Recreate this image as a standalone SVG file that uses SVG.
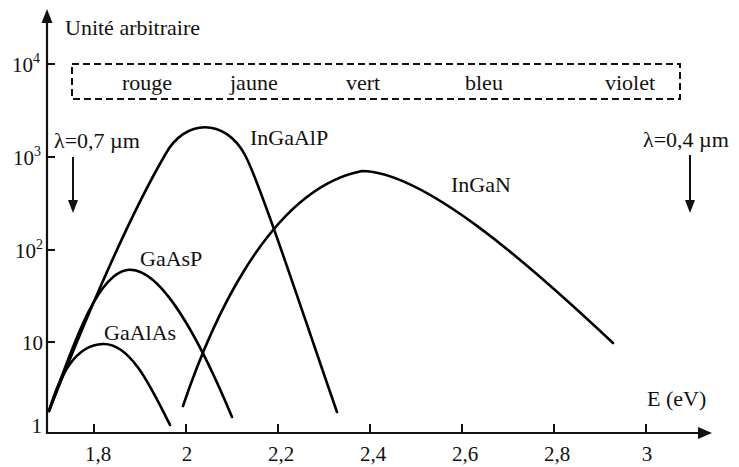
<svg xmlns="http://www.w3.org/2000/svg" width="739" height="467" viewBox="0 0 739 467" font-family="'Liberation Serif', 'DejaVu Serif', 'Times New Roman', serif">
<style>
text{font-family:'Liberation Serif','DejaVu Serif','Times New Roman',serif;fill:#111}
.lbl{font-size:22px}
.tk{font-size:21px}
.sup{font-size:14px}
.ax{stroke:#111;stroke-width:2.2;fill:none}
.tick{stroke:#111;stroke-width:2;fill:none}
.curve{stroke:#000;stroke-width:2.6;fill:none;stroke-linecap:round;stroke-linejoin:round}
.head{fill:#111}
.box{fill:none;stroke:#111;stroke-width:2;stroke-dasharray:7 4}
</style>
<rect width="739" height="467" fill="#fff"/>
<g id="axes">
<line class="ax" x1="47" y1="434" x2="47" y2="20"/>
<polygon class="head" points="47,9 41.5,23 52.5,23"/>
<line class="ax" x1="46" y1="433" x2="700" y2="433"/>
<polygon class="head" points="712,433 698,427 698,439"/>
<g id="yticks">
<line class="tick" x1="47" y1="64" x2="55" y2="64"/>
<line class="tick" x1="47" y1="157" x2="55" y2="157"/>
<line class="tick" x1="47" y1="250" x2="55" y2="250"/>
<line class="tick" x1="47" y1="342" x2="55" y2="342"/>
</g>
<g id="xticks">
<line class="tick" x1="94" y1="433" x2="94" y2="424"/>
<line class="tick" x1="186" y1="433" x2="186" y2="424"/>
<line class="tick" x1="278" y1="433" x2="278" y2="424"/>
<line class="tick" x1="370" y1="433" x2="370" y2="424"/>
<line class="tick" x1="462" y1="433" x2="462" y2="424"/>
<line class="tick" x1="554" y1="433" x2="554" y2="424"/>
<line class="tick" x1="646" y1="433" x2="646" y2="424"/>
</g>
<g id="ylabels">
<text class="tk" font-family="Liberation Serif" x="12" y="72">10<tspan class="sup" dy="-9">4</tspan></text>
<text class="tk" font-family="Liberation Serif" x="13" y="165">10<tspan class="sup" dy="-9">3</tspan></text>
<text class="tk" font-family="Liberation Serif" x="15" y="258">10<tspan class="sup" dy="-9">2</tspan></text>
<text class="tk" font-family="Liberation Serif" x="43" y="350" text-anchor="end">10</text>
<text class="tk" font-family="Liberation Serif" x="42" y="433" text-anchor="end">1</text>
</g>
<g id="xlabels" text-anchor="middle" font-family="Liberation Serif">
<text class="tk" x="98" y="461">1,8</text>
<text class="tk" x="187" y="461">2</text>
<text class="tk" x="281" y="461">2,2</text>
<text class="tk" x="373" y="461">2,4</text>
<text class="tk" x="465" y="461">2,6</text>
<text class="tk" x="557" y="461">2,8</text>
<text class="tk" x="647" y="461">3</text>
</g>
<text id="ytitle" class="lbl" font-family="Liberation Serif" x="65" y="35">Unité arbitraire</text>
<text id="xtitle" class="lbl" font-family="Liberation Serif" x="647" y="406">E (eV)</text>
</g>
<g id="spectrum" font-family="Liberation Serif">
<rect class="box" x="72" y="64" width="608" height="35"/>
<text class="lbl" x="122" y="90">rouge</text>
<text class="lbl" x="230" y="90">jaune</text>
<text class="lbl" x="346" y="90">vert</text>
<text class="lbl" x="465" y="90">bleu</text>
<text class="lbl" x="605" y="90">violet</text>
</g>
<g id="lambda-07" font-family="Liberation Serif">
<text class="lbl" x="54" y="148">λ=0,7 µm</text>
<line class="tick" x1="73" y1="157" x2="73" y2="202"/>
<polygon class="head" points="73,213 68,200 78,200"/>
</g>
<g id="lambda-04" font-family="Liberation Serif">
<text class="lbl" x="643" y="147">λ=0,4 µm</text>
<line class="tick" x1="690" y1="155" x2="690" y2="202"/>
<polygon class="head" points="690,213 685,200 695,200"/>
</g>
<g id="curves" font-family="Liberation Serif">
<g id="InGaAlP">
<path class="curve" d="M49,411 C85,320 130,215 165,155 C185,118 225,118 245,155 C260,183 305,320 337,412"/>
<text class="lbl" x="250" y="145">InGaAlP</text>
</g>
<g id="GaAsP">
<path class="curve" d="M49,411 C70,355 95,275 127,270 C160,265 200,340 232,417"/>
<text class="lbl" x="140" y="266">GaAsP</text>
</g>
<g id="GaAlAs">
<path class="curve" d="M49,411 C60,375 75,345 103,344 C130,343 150,385 170,425"/>
<text class="lbl" x="104" y="340">GaAlAs</text>
</g>
<g id="InGaN">
<path class="curve" d="M183,406 C207,335 265,190 362,171 C425,172 530,265 613,343"/>
<text class="lbl" x="451" y="192">InGaN</text>
</g>
</g>
</svg>
